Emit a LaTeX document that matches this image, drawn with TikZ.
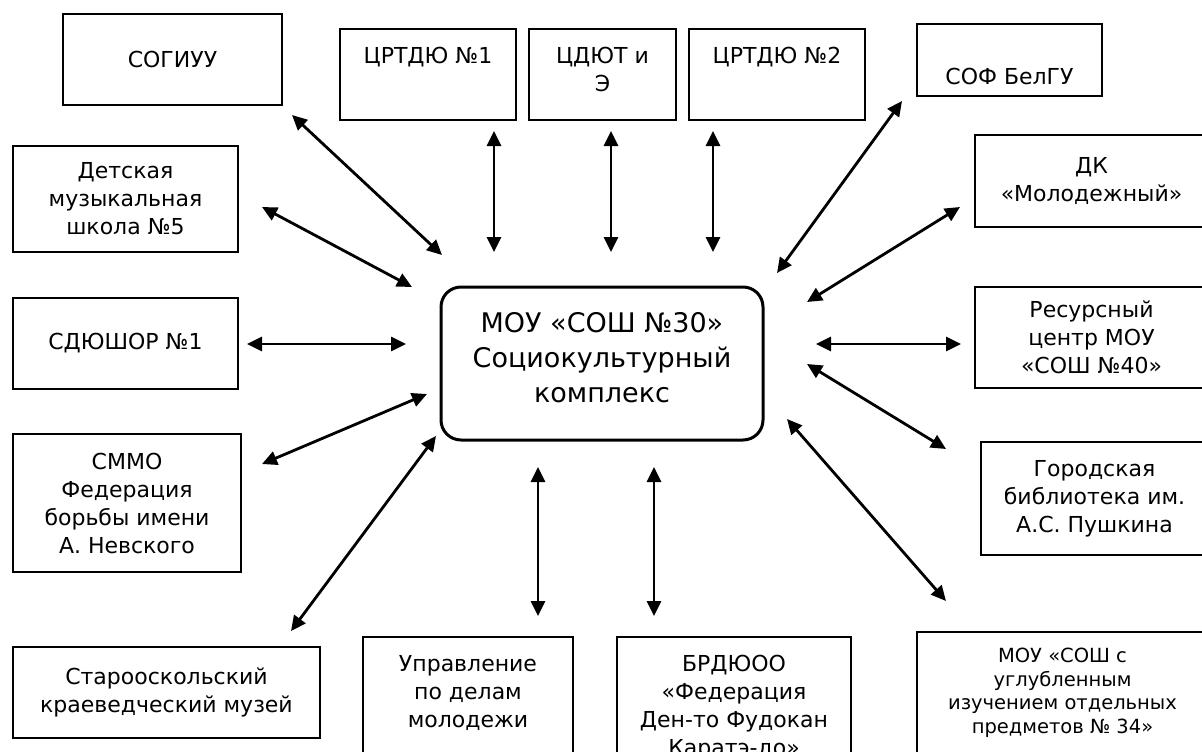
\documentclass[tikz,border=0pt]{standalone}
\usepackage{fontspec}
\setmainfont{DejaVu Sans}
\usetikzlibrary{positioning, arrows.meta}
\tikzset{
  orgbox/.style={draw, line width=1.8pt, align=center, inner sep=0pt, font=\fontsize{22}{28}\selectfont},
  boxlabel/.style={align=center, inner sep=0pt, font=\fontsize{22}{28}\selectfont},
  smallbox/.style={orgbox, font=\fontsize{19.5}{23.5}\selectfont},
  hub/.style={draw, line width=3pt, rounded corners=20pt, inner sep=0pt},
  hubtext/.style={align=center, inner sep=0pt, font=\fontsize{27}{35}\selectfont},
  link/.style={{Triangle[length=15pt,width=14pt]}-{Triangle[length=15pt,width=14pt]}, line width=2.8pt}
}

\begin{document}
\begin{tikzpicture}[x=1pt, y=-1pt]
  \useasboundingbox (0,0) rectangle (1202,752);
  \clip (0,0) rectangle (1202,752);

  % centre
  \node[hub, minimum width=322pt, minimum height=153pt] (hub) at (602,363.5) {};
  \node[hubtext] (hub-t) at ([yshift=6pt]hub.center)
    {МОУ «СОШ №30»\\Социокультурный\\комплекс};

  % top row
  \node[orgbox, minimum width=219pt, minimum height=91pt] (sogiuu) at (172.5,59.5) {СОГИУУ};
  \node[orgbox, minimum width=176pt, minimum height=91pt] (crtdu1) at (428,74.5) {};
  \node[orgbox, minimum width=147pt, minimum height=91pt] (cdut) at (602.5,74.5) {};
  \node[orgbox, minimum width=176pt, minimum height=91pt] (crtdu2) at (777,74.5) {};
  \node[orgbox, minimum width=185pt, minimum height=72pt] (sof) at (1009.5,60) {};
  \node[boxlabel, below=19pt of crtdu1.north] (crtdu1-t) {ЦРТДЮ №1};
  \node[boxlabel, below=19pt of cdut.north] (cdut-t) {ЦДЮТ и\\Э};
  \node[boxlabel, below=19pt of crtdu2.north] (crtdu2-t) {ЦРТДЮ №2};
  \node[boxlabel, below=45pt of sof.north] (sof-t) {СОФ БелГУ};

  % left column
  \node[orgbox, minimum width=225pt, minimum height=106pt] (dmsh) at (125.5,199) {Детская\\музыкальная\\школа №5};
  \node[orgbox, minimum width=225pt, minimum height=91pt] (sdushor) at (125.5,343.5) {СДЮШОР №1};
  \node[orgbox, minimum width=228pt, minimum height=138pt] (smmo) at (127,503)
    {СММО\\Федерация\\борьбы имени\\А. Невского};
  \node[orgbox, minimum width=307pt, minimum height=91pt] (staro) at (166.5,692.5)
    {Старооскольский\\краеведческий музей};

  % right column
  \node[orgbox, minimum width=233pt, minimum height=92pt] (dk) at (1091.5,181) {ДК\\«Молодежный»};
  \node[orgbox, minimum width=233pt, minimum height=101pt] (resurs) at (1091.5,337.5)
    {Ресурсный\\центр МОУ\\«СОШ №40»};
  \node[orgbox, minimum width=227pt, minimum height=113pt] (gorod) at (1094.5,498.5)
    {Городская\\библиотека им.\\А.С. Пушкина};
  \node[smallbox, minimum width=291pt, minimum height=122pt] (mou34) at (1062.5,693)
    {МОУ «СОШ с\\углубленным\\изучением отдельных\\предметов № 34»};

  % bottom row
  \node[orgbox, minimum width=210pt, minimum height=140pt] (upr) at (468,707) {};
  \node[orgbox, minimum width=234pt, minimum height=140pt] (brd) at (734,707) {};
  \node[boxlabel, below=19pt of upr.north] (upr-t) {Управление\\по делам\\молодежи};
  \node[boxlabel, below=19pt of brd.north] (brd-t) {БРДЮОО\\«Федерация\\Ден-то Фудокан\\Каратэ-до»};

  % arrow ends
  \coordinate (sogiuu-e) at (292,115);   \coordinate (hub-sogiuu) at (442,255);
  \coordinate (dmsh-e) at (262,207);     \coordinate (hub-dmsh) at (412,287);
  \coordinate (sdushor-e) at (247,344);  \coordinate (hub-sdushor) at (406,344);
  \coordinate (smmo-e) at (262,464);     \coordinate (hub-smmo) at (427,394);
  \coordinate (staro-e) at (291,631);    \coordinate (hub-staro) at (436,436);
  \coordinate (crtdu1-e) at (494,131);   \coordinate (hub-crtdu1) at (494,252);
  \coordinate (cdut-e) at (611,131);     \coordinate (hub-cdut) at (611,252);
  \coordinate (crtdu2-e) at (713,131);   \coordinate (hub-crtdu2) at (713,252);
  \coordinate (sof-e) at (902,101);      \coordinate (hub-sof) at (777,273);
  \coordinate (dk-e) at (960,207);       \coordinate (hub-dk) at (807,302);
  \coordinate (resurs-e) at (961,344);   \coordinate (hub-resurs) at (816,344);
  \coordinate (gorod-e) at (946,449);    \coordinate (hub-gorod) at (807,364);
  \coordinate (mou34-e) at (946,601);    \coordinate (hub-mou34) at (787,419);
  \coordinate (upr-e) at (538,616);      \coordinate (hub-upr) at (538,467);
  \coordinate (brd-e) at (654,616);      \coordinate (hub-brd) at (654,467);

  \foreach \a in {sogiuu, dmsh, sdushor, smmo, staro, crtdu1, cdut, crtdu2,
                  sof, dk, resurs, gorod, mou34, upr, brd}
    \draw[link] (\a-e) -- (hub-\a);
\end{tikzpicture}
\end{document}
